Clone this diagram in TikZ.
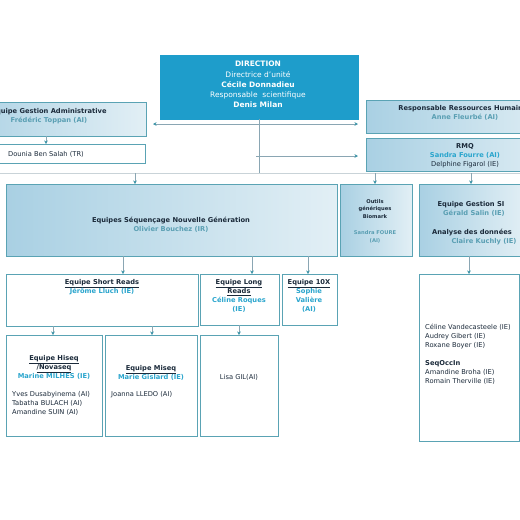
\documentclass[tikz,border=0pt]{standalone}
\usepackage{fontspec}
\setmainfont{DejaVu Sans}
\usetikzlibrary{arrows.meta}
\definecolor{dirblue}{HTML}{1E9DCB}
\definecolor{bord}{HTML}{5AA3B4}
\definecolor{gdark}{HTML}{A9D0E3}
\definecolor{glight}{HTML}{E2EFF5}
\definecolor{ttl}{HTML}{1B2A3A}
\definecolor{nmA}{HTML}{5A9FB3}
\definecolor{nmB}{HTML}{2AA5CD}
\definecolor{lnc}{HTML}{8AA6B3}
\definecolor{tipc}{HTML}{3F95A8}
\definecolor{busc}{HTML}{C9D3D8}
\begin{document}
\begin{tikzpicture}[x=1pt,y=-1pt,
  box/.style={anchor=north west, inner sep=0pt, outer sep=0pt, draw=bord, line width=0.6pt},
  gbox/.style={box, left color=gdark, right color=glight},
  wbox/.style={box, fill=white},
  txt/.style={font=\fontsize{6.7}{9}\selectfont, inner sep=0pt, align=center, text=ttl},
  arr/.style={draw=lnc, line width=0.5pt, -{Stealth[length=3.5pt,width=3.5pt,color=tipc]}},
  plain/.style={draw=lnc, line width=0.5pt},
  busline/.style={draw=busc, line width=1pt}]
\useasboundingbox (0,0) rectangle (520,520);
\fill[white] (0,0) rectangle (520,520);

% boxes
\node[box, fill=dirblue, draw=dirblue, minimum width=198pt, minimum height=64pt] (dir) at (160,55) {};
\node[gbox, minimum width=194pt, minimum height=34pt] (admin) at (-48,102) {};
\node[wbox, minimum width=155pt, minimum height=19pt] (dounia) at (-10,144) {};
\node[gbox, minimum width=198pt, minimum height=33pt] (rrh) at (366,100) {};
\node[gbox, minimum width=198pt, minimum height=33pt] (rmq) at (366,138) {};
\node[gbox, minimum width=331pt, minimum height=72pt] (ngs) at (6,184) {};
\node[gbox, minimum width=72pt, minimum height=72pt] (outils) at (340,184) {};
\node[gbox, minimum width=106pt, minimum height=72pt] (gsi) at (419,184) {};
\node[wbox, minimum width=192pt, minimum height=52pt] (short) at (6,274) {};
\node[wbox, minimum width=79pt, minimum height=51pt] (long) at (200,274) {};
\node[wbox, minimum width=55pt, minimum height=51pt] (tenx) at (282,274) {};
\node[wbox, minimum width=96pt, minimum height=101pt] (hiseq) at (6,335) {};
\node[wbox, minimum width=92pt, minimum height=101pt] (miseq) at (105,335) {};
\node[wbox, minimum width=78pt, minimum height=101pt] (lisa) at (200,335) {};
\node[wbox, minimum width=100pt, minimum height=167pt] (gsibig) at (419,274) {};

% texts
\node[txt, text=white, font=\fontsize{7.5}{10.2}\selectfont] (dirtxt) at (258,84.5)
  {\textbf{DIRECTION}\\Directrice d'unité\\\textbf{Cécile Donnadieu}\\Responsable\ \ scientifique\\\textbf{Denis Milan}};
\node[txt] (admintxt) at (49,116.5) {\textbf{Equipe Gestion Administrative}\\\textcolor{nmA}{\textbf{Frédéric Toppan (AI)}}};
\node[txt, anchor=west] (douniatxt) at (8,154) {Dounia Ben Salah (TR)};
\node[txt] (rrhtxt) at (465,112.5) {\textbf{Responsable Ressources Humaines}\\\textcolor{nmA}{\textbf{Anne Fleurbé (AI)}}};
\node[txt] (rmqtxt) at (465,155.5) {\textbf{RMQ}\\\textcolor{nmB}{\textbf{Sandra Fourre (AI)}}\\Delphine Figarol (IE)};
\node[txt] (ngstxt) at (171,225) {\textbf{Equipes Séquençage Nouvelle Génération}\\\textcolor{nmA}{\textbf{Olivier Bouchez (IR)}}};
\node[txt, font=\fontsize{5.2}{7.6}\selectfont] (outils1) at (375,209) {\textbf{Outils}\\\textbf{génériques}\\\textbf{Biomark}};
\node[txt, font=\fontsize{5.2}{8}\selectfont, text=nmA] (outils2) at (375,236.5) {\textbf{Sandra FOURE}\\\textbf{(AI)}};
\node[txt] (gsi1) at (471,209) {\textbf{Equipe Gestion SI}\\\hspace*{6pt}\textcolor{nmA}{\textbf{Gérald Salin (IE)}}};
\node[txt] (gsi2) at (472,237) {\textbf{Analyse des données}\\\hspace*{24pt}\textcolor{nmA}{\textbf{Claire Kuchly (IE)}}};
\node[txt] (shorttxt) at (102,287) {\textbf{\underline{Equipe Short Reads}}\\\textcolor{nmB}{\textbf{Jérôme Lluch (IE)}}};
\node[txt] (longtxt) at (239,296) {\textbf{\underline{Equipe Long}}\\\textbf{\underline{Reads}}\\\textcolor{nmB}{\textbf{Céline Roques}}\\\textcolor{nmB}{\textbf{(IE)}}};
\node[txt] (tenxtxt) at (309,296) {\textbf{\underline{Equipe 10X}}\\\textcolor{nmB}{\textbf{Sophie}}\\\textcolor{nmB}{\textbf{Valière}}\\\textcolor{nmB}{\textbf{(AI)}}};
\node[txt] (hiseq1) at (54,367.5) {\textbf{\underline{Equipe Hiseq}}\\\textbf{\underline{/Novaseq}}\\\textcolor{nmB}{\textbf{Marine MILHES (IE)}}};
\node[txt, anchor=north west, align=left] (hiseq2) at (12,391.5) {Yves Dusabyinema (AI)\\Tabatha BULACH (AI)\\Amandine SUIN (AI)};
\node[txt] (miseq1) at (151,372.5) {\textbf{\underline{Equipe Miseq}}\\\textcolor{nmB}{\textbf{Marie Gislard (IE)}}};
\node[txt, anchor=north west, align=left] (miseq2) at (111,391.5) {Joanna LLEDO (AI)};
\node[txt] (lisatxt) at (239,377.5) {Lisa GIL(AI)};
\node[txt, anchor=north west, align=left] (gsibigtxt) at (425,323.5)
  {Céline Vandecasteele (IE)\\Audrey Gibert (IE)\\Roxane Boyer (IE)\\\mbox{}\\\textbf{SeqOccIn}\\Amandine Broha (IE)\\Romain Therville (IE)};

% helper coordinates
\coordinate (hl) at (0,124);
\coordinate (busL) at (0,173);
\coordinate (busR) at (520,173);
\coordinate (p1) at (135,173);
\coordinate (p2) at (375,173);
\coordinate (p3) at (471,173);
\coordinate (q1) at (123,0);
\coordinate (q2) at (252,0);
\coordinate (q3) at (308,0);
\coordinate (q4) at (469,0);
\coordinate (r1) at (53,0);
\coordinate (r2) at (152,0);
\coordinate (r3) at (239,0);
\coordinate (d1) at (46,0);

% connectors
\draw[busline] (busL) -- (busR);
\draw[arr, {Stealth[length=3.5pt,width=3.5pt,color=tipc]}-{Stealth[length=3.5pt,width=3.5pt,color=tipc]}, shorten <=7pt, shorten >=8pt]
  (hl -| admin.east) -- (hl -| rrh.west);
\draw[plain] (dir.south) -- (dir.south |- busL);
\draw[arr, shorten >=8pt] ([xshift=-3pt]dir.south |- 0,156) -- (rrh.west |- 0,156);
\draw[arr] (admin.south -| d1) -- (dounia.north -| d1);
\draw[arr] (p1) -- (p1 |- ngs.north);
\draw[arr] (p2) -- (p2 |- outils.north);
\draw[arr] (p3) -- (p3 |- gsi.north);
\draw[arr] (ngs.south -| q1) -- (short.north -| q1);
\draw[arr] (ngs.south -| q2) -- (long.north -| q2);
\draw[arr] (ngs.south -| q3) -- (tenx.north -| q3);
\draw[arr] (gsi.south -| q4) -- (gsibig.north -| q4);
\draw[arr] (short.south -| r1) -- (hiseq.north -| r1);
\draw[arr] (short.south -| r2) -- (miseq.north -| r2);
\draw[arr] (long.south -| r3) -- (lisa.north -| r3);
\end{tikzpicture}
\end{document}
